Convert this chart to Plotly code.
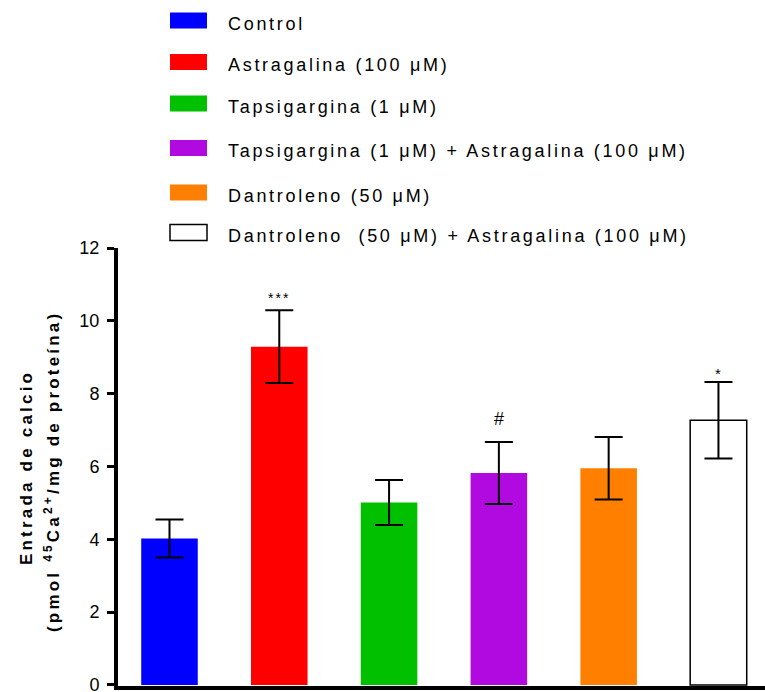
import plotly.graph_objects as go

# ---- data ----
groups = ["Control", "Astragalina (100 μM)", "Tapsigargina (1 μM)",
          "Tapsigargina (1 μM) + Astragalina (100 μM)", "Dantroleno (50 μM)",
          "Dantroleno  (50 μM) + Astragalina (100 μM)"]
means = [4.02, 9.29, 5.01, 5.82, 5.95, 7.27]
errors = [0.52, 1.00, 0.62, 0.85, 0.86, 1.05]
marks = ["", "***", "", "#", "", "*"]
colors = ["#0000FF", "#FF0000", "#00C000", "#B00AE0", "#FF8000", "#FFFFFF"]
outline_w = [0, 0, 0, 0, 0, 1.5]
y_ticks = [0, 2, 4, 6, 8, 10, 12]

W, H = 765, 692
L, R, T, B = 118, 0, 248, 6
PW, PH = W - L - R, H - T - B
FONT = "Arial, Liberation Sans, sans-serif"


def px_x(px):
    return (px - L) / PW


def px_y(py):
    return (H - B - py) / PH


def spaced(t, ls):
    return f'<span style="letter-spacing:{ls}px">{t}</span>'


xs = list(range(len(groups)))

fig = go.Figure()
fig.add_trace(go.Bar(
    x=xs, y=means, width=0.515,
    marker=dict(color=colors, line=dict(color="black", width=outline_w)),
    error_y=dict(type="data", array=errors, visible=True, color="black",
                 thickness=2, width=14),
    showlegend=False, hoverinfo="skip",
))

# significance marks
shifts = {"***": 12, "#": 23, "*": 8}
sizes = {"***": 14, "#": 18, "*": 15}
for x, m, e, s in zip(xs, means, errors, marks):
    if s:
        fig.add_annotation(x=x, y=m + e, text=spaced(s, 2 if s == "***" else 0),
                           showarrow=False, yanchor="middle", yshift=shifts[s],
                           font=dict(family=FONT, size=sizes[s], color="black"))

# legend (manual)
sw_y = [20.5, 62, 103.5, 148, 192.5, 232.5]
tx_y = [23.5, 65, 106.5, 151, 195.5, 235.5]
for name, c, sy, ty in zip(groups, colors, sw_y, tx_y):
    fig.add_shape(type="rect", xref="paper", yref="paper",
                  x0=px_x(170), x1=px_x(207), y0=px_y(sy + 8), y1=px_y(sy - 8),
                  fillcolor=c, line=dict(color="black" if c == "#FFFFFF" else c,
                                         width=1.5 if c == "#FFFFFF" else 0))
    fig.add_annotation(xref="paper", yref="paper", x=px_x(226), y=px_y(ty),
                       xanchor="left", yanchor="middle", showarrow=False,
                       text=spaced(name, 2.7),
                       font=dict(family=FONT, size=18, color="black"))

# y-axis title (two lines)
fig.add_annotation(xref="paper", yref="paper", x=px_x(26), y=px_y(468),
                   xanchor="center", yanchor="middle", showarrow=False, textangle=-90,
                   text=spaced("<b>Entrada de calcio</b>", 3.2),
                   font=dict(family=FONT, size=17, color="black"))
fig.add_annotation(xref="paper", yref="paper", x=px_x(52), y=px_y(472),
                   xanchor="center", yanchor="middle", showarrow=False, textangle=-90,
                   text=spaced("<b>(pmol <sup>45</sup>Ca<sup>2+</sup>/mg de proteína)</b>", 3.2),
                   font=dict(family=FONT, size=17, color="black"))

fig.update_layout(
    width=W, height=H,
    margin=dict(l=L, r=R, t=T, b=B, pad=0, autoexpand=False),
    paper_bgcolor="white", plot_bgcolor="white",
    font=dict(family=FONT, color="black"),
    xaxis=dict(range=[-0.469, 5.424], showticklabels=False, ticks="",
               showgrid=False, zeroline=False, showline=True, automargin=False,
               linecolor="black", linewidth=4, fixedrange=True),
    yaxis=dict(range=[-0.03, 12], tickvals=y_ticks, ticktext=[str(v) for v in y_ticks],
               ticks="outside", ticklen=7, tickwidth=3, tickcolor="black",
               ticklabelstandoff=4, ticklabeloverflow="allow", automargin=False,
               tickfont=dict(family=FONT, size=18, color="black"),
               showgrid=False, zeroline=False, showline=True,
               linecolor="black", linewidth=4, fixedrange=True),
)

fig.write_html("out.html")
